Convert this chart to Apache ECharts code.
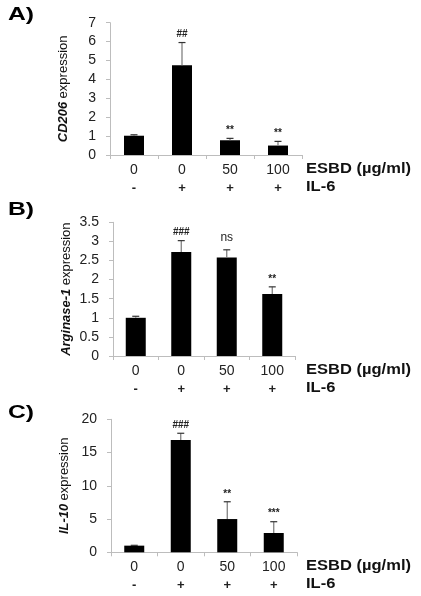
<!DOCTYPE html>
<html>
<head>
<meta charset="utf-8">
<script src="https://cdn.jsdelivr.net/npm/echarts@6/dist/echarts.min.js"></script>
<style>
  html, body { margin: 0; padding: 0; background: #fff; }
  #chart { width: 421px; height: 596px; }
</style>
</head>
<body>
<div id="chart"></div>
<script>
// x axis rows
const esbdDoses = ['0', '0', '50', '100']
const il6Signs = ['-', '+', '+', '+']

// A) CD206
const cd206Mean = [1.02, 4.75, 0.78, 0.5]
const cd206Err = [0.05, 1.2, 0.1, 0.22]
const cd206Sig = ['', '##', '**', '**']

// B) Arginase-1
const arg1Mean = [1.0, 2.72, 2.58, 1.62]
const arg1Err = [0.04, 0.3, 0.2, 0.19]
const arg1Sig = ['', '###', 'ns', '**']

// C) IL-10
const il10Mean = [1.0, 16.9, 5.0, 2.9]
const il10Err = [0.05, 1.0, 2.6, 1.7]
const il10Sig = ['', '###', '**', '***']

const font = 'Liberation Sans, Arial, sans-serif'
const axisGrey = '#bdbdbd'

const panels = [
  { mean: cd206Mean, err: cd206Err, sig: cd206Sig, max: 7, interval: 1, gene: 'CD206',
    grid: { left: 110, top: 22.7, width: 192, height: 132.3 } },
  { mean: arg1Mean, err: arg1Err, sig: arg1Sig, max: 3.5, interval: 0.5, gene: 'Arginase-1',
    grid: { left: 113, top: 222.3, width: 182, height: 133.7 } },
  { mean: il10Mean, err: il10Err, sig: il10Sig, max: 20, interval: 5, gene: 'IL-10',
    grid: { left: 111, top: 419.3, width: 186, height: 133 } }
]

function errorRender(sig) {
  return function (params, api) {
    const idx = api.value(0)
    const base = api.coord([idx, api.value(1)])
    const top = api.coord([idx, api.value(1) + api.value(2)])
    const children = [
      { type: 'line', shape: { x1: top[0], y1: base[1], x2: top[0], y2: top[1] },
        style: { stroke: '#777', lineWidth: 1.2 } },
      { type: 'line', shape: { x1: top[0] - 3.5, y1: top[1], x2: top[0] + 3.5, y2: top[1] },
        style: { stroke: '#333', lineWidth: 1.2 } }
    ]
    if (sig[idx]) {
      const isNs = sig[idx] === 'ns'
      children.push({
        type: 'text',
        style: {
          x: top[0], y: top[1] - (isNs ? 6 : 3),
          text: sig[idx], align: 'center', verticalAlign: 'bottom',
          font: (isNs ? '12px ' : 'bold 10px ') + font, fill: '#222'
        }
      })
    }
    return { type: 'group', children: children }
  }
}

const grids = []
const xAxes = []
const yAxes = []
const series = []
const graphics = []
const letters = ['A)', 'B)', 'C)']
const letterY = [15, 210, 413]

panels.forEach((p, i) => {
  grids.push(p.grid)
  xAxes.push({
    type: 'category',
    gridIndex: i,
    data: esbdDoses.map((d, k) => d + '|' + il6Signs[k]),
    axisLine: { lineStyle: { color: axisGrey, width: 1 } },
    axisTick: { show: true, length: 4, lineStyle: { color: axisGrey } },
    axisLabel: {
      interval: 0,
      margin: 6,
      formatter(v) {
        const parts = v.split('|')
        return '{a|' + parts[0] + '}\n{b|' + parts[1] + '}'
      },
      rich: {
        a: { fontFamily: font, fontSize: 14, color: '#222', lineHeight: 18 },
        b: { fontFamily: font, fontSize: 13, fontWeight: 'bold', color: '#222', lineHeight: 18 }
      }
    }
  })
  yAxes.push({
    type: 'value',
    gridIndex: i,
    min: 0,
    max: p.max,
    interval: p.interval,
    splitLine: { show: false },
    axisLine: { show: true, lineStyle: { color: axisGrey, width: 1 } },
    axisTick: { show: true, length: 4, lineStyle: { color: axisGrey } },
    axisLabel: { margin: 14, fontFamily: font, fontSize: 14, color: '#222' },
    name: '{i|' + p.gene + '} {n|expression}',
    nameLocation: 'middle',
    nameRotate: 90,
    nameGap: 40,
    nameTextStyle: {
      rich: {
        i: { fontFamily: font, fontSize: 13, fontStyle: 'italic', fontWeight: 'bold', color: '#111' },
        n: { fontFamily: font, fontSize: 13, color: '#111' }
      }
    }
  })
  series.push({
    type: 'bar',
    xAxisIndex: i,
    yAxisIndex: i,
    data: p.mean,
    barWidth: 20,
    itemStyle: { color: '#000' },
    silent: true
  })
  series.push({
    type: 'custom',
    xAxisIndex: i,
    yAxisIndex: i,
    data: p.mean.map((m, k) => [k, m, p.err[k]]),
    renderItem: errorRender(p.sig),
    z: 3,
    silent: true
  })
  const axisBottom = p.grid.top + p.grid.height
  graphics.push({
    type: 'text', left: 8, top: letterY[i] - 10, scaleX: 1.3,
    style: { text: letters[i], font: 'bold 19px ' + font, fill: '#000' }
  })
  graphics.push({
    type: 'text', left: 306, top: axisBottom + 15 - 8, scaleX: 1.18,
    style: { text: 'ESBD (µg/ml)', font: 'bold 14px ' + font, fill: '#111' }
  })
  graphics.push({
    type: 'text', left: 306, top: axisBottom + 33 - 8, scaleX: 1.18,
    style: { text: 'IL-6', font: 'bold 14px ' + font, fill: '#111' }
  })
})

const chart = echarts.init(document.getElementById('chart'))
chart.setOption({
  animation: false,
  backgroundColor: '#fff',
  grid: grids,
  xAxis: xAxes,
  yAxis: yAxes,
  series: series,
  graphic: graphics
})
</script>
</body>
</html>
